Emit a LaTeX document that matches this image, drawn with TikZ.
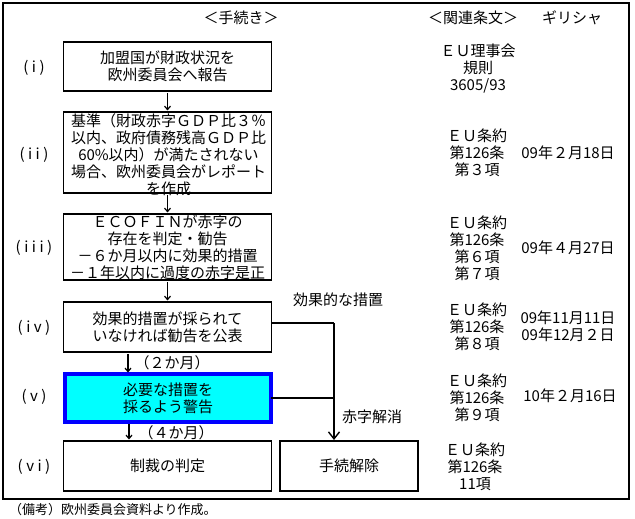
\documentclass[tikz,border=0pt]{standalone}
\usepackage{fontspec}
\setmainfont{Noto Sans CJK JP}
\usetikzlibrary{arrows.meta}
\definecolor{warnfill}{RGB}{0,255,255}
\definecolor{warnline}{RGB}{0,0,255}
\newcommand{\lk}{\kern3.5bp}
\begin{document}
\begin{tikzpicture}[x=1bp,y=-1bp,
  every node/.style={font=\fontsize{15bp}{17bp}\selectfont, inner sep=0pt, outer sep=0pt},
  procbox/.style={draw, line width=1.2bp, minimum width=208bp},
  txt/.style={align=center},
  small/.style={font=\fontsize{13bp}{15bp}\selectfont},
  flow/.style={line width=1.2bp, -{Straight Barb[length=3.5bp,width=6bp]}, shorten >=1.5bp, shorten <=2bp},
  link/.style={line width=1.4bp},
  bigflow/.style={line width=1.4bp, -{Straight Barb[length=7bp,width=11bp,line width=1.4bp]}, shorten >=1bp},
]
\path[use as bounding box] (0,0) rectangle (635,519);
\node[draw, line width=2bp, minimum width=626bp, minimum height=496bp] (frame) at (316,251) {};

% headers
\node (h1) at (241,18) {＜手続き＞};
\node (h2) at (473,18) {＜関連条文＞};
\node (h3) at (572,18) {ギリシャ};

% process boxes
\node[procbox, minimum height=49bp] (b1) at (167.5,66.5) {};
\node[txt] (t1) at (b1) {加盟国が財政状況を\\欧州委員会へ報告};
\node[procbox, minimum height=81bp] (b2) at (167.5,152.5) {};
\node[txt] (t2) at (168.5,154.5) {基準（財政赤字ＧＤＰ比３％\\以内、政府債務残高ＧＤＰ比\\60\%以内）が満たされない\\場合、欧州委員会がレポート\\を作成};
\node[procbox, minimum height=66bp] (b3) at (167.5,247) {};
\node[txt] (t3) at (b3) {ＥＣＯＦＩＮが赤字の\\存在を判定・勧告\\－６か月以内に効果的措置\\－１年以内に過度の赤字是正};
\node[procbox, minimum height=50bp] (b4) at (167.5,327) {};
\node[txt] (t4) at (b4) {効果的措置が採られて\\いなければ勧告を公表};
\node[draw=warnline, fill=warnfill, line width=4bp, minimum width=206bp, minimum height=48bp] (b5) at (168,398) {};
\node[txt] (t5) at (b5) {必要な措置を\\採るよう警告};
\node[procbox, minimum height=50bp] (b6) at (167.5,466) {};
\node[txt] (t6) at (b6) {制裁の判定};
\node[procbox, minimum width=138bp, minimum height=50bp] (b7) at (349,466) {};
\node[txt] (t7) at (b7) {手続解除};

% left labels
\node (l1) at (34,68) {(\lk i\lk)};
\node (l2) at (34,155) {(\lk i\lk i\lk)};
\node (l3) at (34,248) {(\lk i\lk i\lk i\lk)};
\node (l4) at (34,328) {(\lk i\lk v\lk)};
\node (l5) at (34,397) {(\lk v\lk)};
\node (l6) at (34,467) {(\lk v\lk i\lk)};

% flow arrows
\draw[flow] (b1) -- (b2);
\draw[flow] (b2) -- (b3);
\draw[flow] (b3) -- (b4);
\coordinate (c4) at (128,0);
\coordinate (c5) at (129,0);
\draw[flow] (c4 |- b4.south) -- (c4 |- b5.north);
\draw[flow] (c5 |- b5.south) -- (c5 |- b6.north);
\node (m1) at (172,363) {（２か月）};
\node (m2) at (176,433) {（４か月）};

% connector to 手続解除
\coordinate (j1) at (334,323);
\draw[link] (b4.east |- j1) -- (j1);
\draw[link] (b5.east) -- (b5.east -| j1);
\draw[bigflow] (j1) -- (j1 |- b7.north);
\node (e1) at (338,300) {効果的な措置};
\node (e2) at (372,417) {赤字解消};

% related articles
\node[txt] (r1) at (478,69) {ＥＵ理事会\\規則\\3605/93};
\node[txt] (r2) at (477,153) {ＥＵ条約\\第126条\\第３項};
\node[txt] (r3) at (477,248.5) {ＥＵ条約\\第126条\\第６項\\第７項};
\node[txt] (r4) at (477,327) {ＥＵ条約\\第126条\\第８項};
\node[txt] (r5) at (477,398) {ＥＵ条約\\第126条\\第９項};
\node[txt] (r6) at (475,466.5) {ＥＵ条約\\第126条\\11項};

% dates
\node (d2) at (568,153) {09年２月18日};
\node (d3) at (568,248) {09年４月27日};
\node[txt] (d4) at (568,326.5) {09年11月11日\\09年12月２日};
\node (d5) at (570,396) {10年２月16日};

% footnote
\node[small, anchor=west] (fn) at (9,510) {（備考）欧州委員会資料より作成。};
\end{tikzpicture}
\end{document}
